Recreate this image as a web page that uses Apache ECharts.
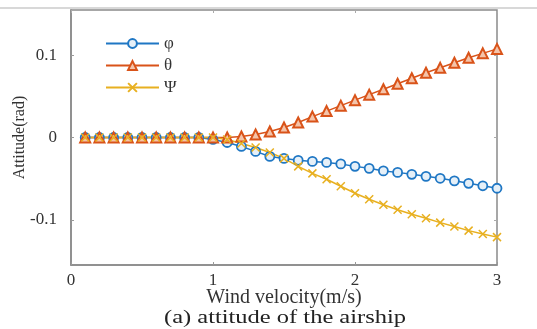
<!DOCTYPE html>
<html>
<head>
<meta charset="utf-8">
<script src="https://cdn.jsdelivr.net/npm/echarts@6/dist/echarts.min.js"></script>
<style>
html,body{margin:0;padding:0;background:#fff;}
#chart{width:537px;height:329px;}
</style>
</head>
<body>
<div id="chart"></div>
<script>
var windVelocity = [0.1,0.2,0.3,0.4,0.5,0.6,0.7,0.8,0.9,1.0,1.1,1.2,1.3,1.4,1.5,1.6,1.7,1.8,1.9,2.0,2.1,2.2,2.3,2.4,2.5,2.6,2.7,2.8,2.9,3.0];
var phi = [0,0,0,0,0,0,0,0,0,-0.0024,-0.0061,-0.0109,-0.0169,-0.0230,-0.0254,-0.0278,-0.0291,-0.0303,-0.0321,-0.0351,-0.0375,-0.0406,-0.0424,-0.0448,-0.0472,-0.0496,-0.0527,-0.0557,-0.0587,-0.0617];
var theta = [0,0,0,0,0,0,0,0,0,0,0,0.0012,0.0036,0.0073,0.0121,0.0182,0.0254,0.0321,0.0387,0.0454,0.0521,0.0587,0.0654,0.0721,0.0787,0.0847,0.0908,0.0969,0.1023,0.1077];
var psi = [0,0,0,0,0,0,0,0,0,0,-0.0024,-0.0073,-0.0121,-0.0182,-0.0254,-0.0351,-0.0436,-0.0508,-0.0593,-0.0678,-0.0751,-0.0817,-0.0878,-0.0932,-0.0981,-0.1035,-0.1083,-0.1132,-0.1174,-0.1211];
var yTicks = [-0.1, 0, 0.1];
var xTicks = [0, 1, 2, 3];
var seriesNames = ['φ', 'θ', 'Ψ'];

function pairs(ys){ return windVelocity.map(function(x,i){ return [x, ys[i]]; }); }

var blue = '#1f77c4', orange = '#d95319', yellow = '#e8b020';
var font = 'Liberation Serif';
var textColor = '#333';

var chart = echarts.init(document.getElementById('chart'), null, {renderer:'canvas'});
chart.setOption({
  backgroundColor: '#fff',
  animation: false,
  grid: {left: 71, right: 40, top: 10, bottom: 64, outerBoundsMode: 'none', containLabel: false,
    show: true, borderColor: '#8a8a8a', borderWidth: 1.5, backgroundColor: 'transparent'},
  legend: {
    orient: 'vertical', left: 100, top: 30, itemWidth: 53, itemHeight: 11, itemGap: 5,
    textStyle: {fontFamily: font, fontSize: 17, color: textColor},
    data: seriesNames
  },
  xAxis: [{
    type: 'value', min: 0, max: 3, interval: 1,
    axisLine: {show: true, onZero: false, lineStyle: {color: '#8a8a8a', width: 1.5}},
    axisTick: {show: true, inside: true, length: 3, lineStyle: {color: '#999'}},
    splitLine: {show: false},
    axisLabel: {fontFamily: font, fontSize: 17, color: textColor, margin: 7},
    name: 'Wind velocity(m/s)', nameLocation: 'middle', nameGap: 23, nameMoveOverlap: false,
    nameTextStyle: {fontFamily: font, fontSize: 20, color: textColor}
  }, {
    type: 'value', position: 'top', min: 0, max: 3, interval: 1,
    axisLine: {show: false, onZero: false}, axisLabel: {show: false}, splitLine: {show: false},
    axisTick: {show: true, inside: true, length: 3, lineStyle: {color: '#aaa'}}
  }],
  yAxis: [{
    type: 'value', min: -0.155, max: 0.155,
    axisLine: {show: true, onZero: false, lineStyle: {color: '#8a8a8a', width: 1.5}},
    axisTick: {show: true, inside: true, length: 3, customValues: yTicks, lineStyle: {color: '#999'}},
    splitLine: {show: false},
    axisLabel: {customValues: yTicks, fontFamily: font, fontSize: 17, color: textColor, margin: 14,
      formatter: function(v){ return v === 0 ? '0' : String(v); }},
    name: 'Attitude(rad)', nameLocation: 'middle', nameGap: 43, nameMoveOverlap: false,
    nameTextStyle: {fontFamily: font, fontSize: 16, color: textColor}
  }, {
    type: 'value', position: 'right', min: -0.155, max: 0.155,
    axisLine: {show: false, onZero: false}, axisLabel: {show: false}, splitLine: {show: false},
    axisTick: {show: true, inside: true, length: 3, customValues: yTicks, lineStyle: {color: '#aaa'}}
  }],
  graphic: [
    {type: 'rect', left: 0, top: 7, shape: {width: 537, height: 2}, style: {fill: '#d8d8d8'}, silent: true},
    {type: 'text', x: 285, y: 318, scaleX: 1.36, style: {text: '(a) attitude of the airship', fontFamily: font, fontSize: 18, fill: '#222', textAlign: 'center', textVerticalAlign: 'middle'}}
  ],
  series: [
    {name: seriesNames[0], type: 'line', data: pairs(phi), symbol: 'circle', symbolSize: 9,
      lineStyle: {color: blue, width: 1.5}, itemStyle: {color: '#e6f0f8', borderColor: blue, borderWidth: 1.8}},
    {name: seriesNames[1], type: 'line', data: pairs(theta), symbol: 'triangle', symbolSize: 10,
      lineStyle: {color: orange, width: 1.5}, itemStyle: {color: '#f4c4aa', borderColor: orange, borderWidth: 2}},
    {name: seriesNames[2], type: 'line', data: pairs(psi), symbol: 'path://M0 0L10 10M10 0L0 10', symbolSize: 8,
      lineStyle: {color: yellow, width: 1.5}, itemStyle: {color: yellow, borderColor: yellow, borderWidth: 1.5}}
  ]
});
</script>
</body>
</html>
